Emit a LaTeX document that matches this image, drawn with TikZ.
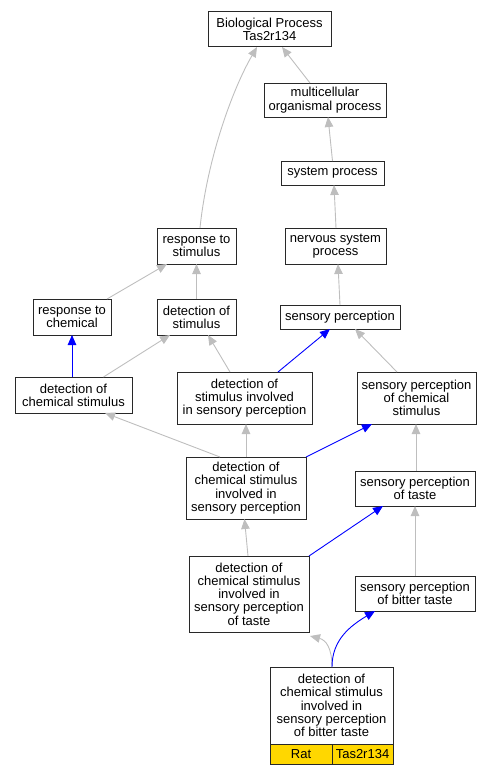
\documentclass[tikz,border=0pt]{standalone}
\usepackage{fontspec}
\setmainfont{Liberation Sans}
\usepackage{tikz}
\usetikzlibrary{arrows.meta, positioning, calc}
\usepackage{xcolor}
\definecolor{isagray}{RGB}{190, 190, 190}
\definecolor{partblue}{RGB}{0, 0, 255}
\definecolor{taxgold}{RGB}{255, 215, 0}
\definecolor{boxline}{RGB}{40, 40, 40}

\tikzset{
  term/.style={draw=boxline, fill=white, line width=1pt, align=center, inner sep=0pt, outer sep=0pt,
    font=\fontsize{13}{13.3}\selectfont},
  isa/.style={draw=isagray, line width=0.9pt, -{Triangle[length=10pt, width=8.5pt]}},
  partof/.style={draw=partblue, line width=0.9pt, -{Triangle[length=10pt, width=8.5pt]}}
}

\begin{document}
\begin{tikzpicture}[x=1pt, y=-1pt]
      \useasboundingbox (0,0) rectangle (493,776);
      % terms
      \node[term, minimum width=123, minimum height=35] (bp) at (269.5,29.5) {Biological Process\\Tas2r134};
      \node[term, minimum width=122, minimum height=34] (mop) at (325,100) {multicellular\\organismal process};
      \node[term, minimum width=103, minimum height=24] (sys) at (332.5,173) {system process};
      \node[term, minimum width=101, minimum height=36] (nsp) at (335.5,246) {nervous system\\process};
      \node[term, minimum width=79, minimum height=36] (rts) at (196.5,246) {response to\\stimulus};
      \node[term, minimum width=78, minimum height=36] (rtc) at (72,317) {response to\\chemical};
      \node[term, minimum width=79, minimum height=36] (dos) at (196.5,317) {detection of\\stimulus};
      \node[term, minimum width=120, minimum height=24] (sp) at (340,317) {sensory perception};
      \node[term, minimum width=117, minimum height=36] (dcs) at (73.5,395) {detection of\\chemical stimulus};
      \node[term, minimum width=135, minimum height=52] (dsisp) at (244.5,398) {detection of\\stimulus involved\\in sensory perception};
      \node[term, minimum width=119, minimum height=52] (spcs) at (416.5,398) {sensory perception\\of chemical\\stimulus};
      \node[term, minimum width=120, minimum height=62] (dcsisp) at (246,488) {detection of\\chemical stimulus\\involved in\\sensory perception};
      \node[term, minimum width=120, minimum height=35] (spt) at (415,488.5) {sensory perception\\of taste};
      \node[term, minimum width=120, minimum height=76] (dcsispt) at (249,594) {detection of\\chemical stimulus\\involved in\\sensory perception\\of taste};
      \node[term, minimum width=120, minimum height=35] (spbt) at (415,593.5) {sensory perception\\of bitter taste};
      \node[term, minimum width=123, minimum height=77] (dcsispbt) at (331.5,705.5) {detection of\\chemical stimulus\\involved in\\sensory perception\\of bitter taste};
      \node[term, fill=taxgold, minimum width=62, minimum height=20, anchor=north west] (rat) at (dcsispbt.south west) {Rat};
      \node[term, fill=taxgold, minimum width=61, minimum height=20, anchor=north west] (gene) at (rat.north east) {Tas2r134};
      % is_a edges
      \draw[isa] ([xshift=-15]mop.north) -- ([xshift=12.5]bp.south);
      \draw[isa] ([xshift=3.5]rts.north) .. controls (207,160) and (232,90) .. ([xshift=-12.5]bp.south);
      \draw[isa] (sys.north) -- ([xshift=3]mop.south);
      \draw[isa] ([xshift=0.5]nsp.north) -- ([xshift=1.5]sys.south);
      \draw[isa] (sp.north) -- ([xshift=2.5]nsp.south);
      \draw[isa] ([xshift=35]rtc.north) -- ([xshift=-29.5]rts.south);
      \draw[isa] (dos.north) -- (rts.south);
      \draw[isa] ([xshift=30]dcs.north) -- ([xshift=-26.5]dos.south);
      \draw[isa] ([xshift=-14.5]dsisp.north) -- ([xshift=11.5]dos.south);
      \draw[isa] ([xshift=-19.5]spcs.north) -- ([xshift=15]sp.south);
      \draw[isa] ([xshift=-26]dcsisp.north) -- ([xshift=31.5]dcs.south);
      \draw[isa] (dcsisp.north) -- ([xshift=1.5]dsisp.south);
      \draw[isa] ([xshift=1]spt.north) -- ([xshift=-0.5]spcs.south);
      \draw[isa] ([xshift=-1]dcsispt.north) -- ([xshift=-1.5]dcsisp.south);
      \draw[isa] (spbt.north) -- (spt.south);
      \draw[isa] ([xshift=0.5]dcsispbt.north) .. controls (332,648) and (326,640) .. ([shift={(1,4)}]dcsispt.south east);
      % part_of edges
      \draw[partof] ([xshift=-1.5]dcs.north) -- (rtc.south);
      \draw[partof] ([xshift=33.5]dsisp.north) -- ([xshift=-10]sp.south);
      \draw[partof] (dcsisp.north east) -- ([xshift=-44.5]spcs.south);
      \draw[partof] (dcsispt.north east) -- ([xshift=-32]spt.south);
      \draw[partof] ([xshift=0.5]dcsispbt.north) .. controls (332,640) and (350,626) .. ([xshift=-40]spbt.south);
    \end{tikzpicture}
\end{document}
